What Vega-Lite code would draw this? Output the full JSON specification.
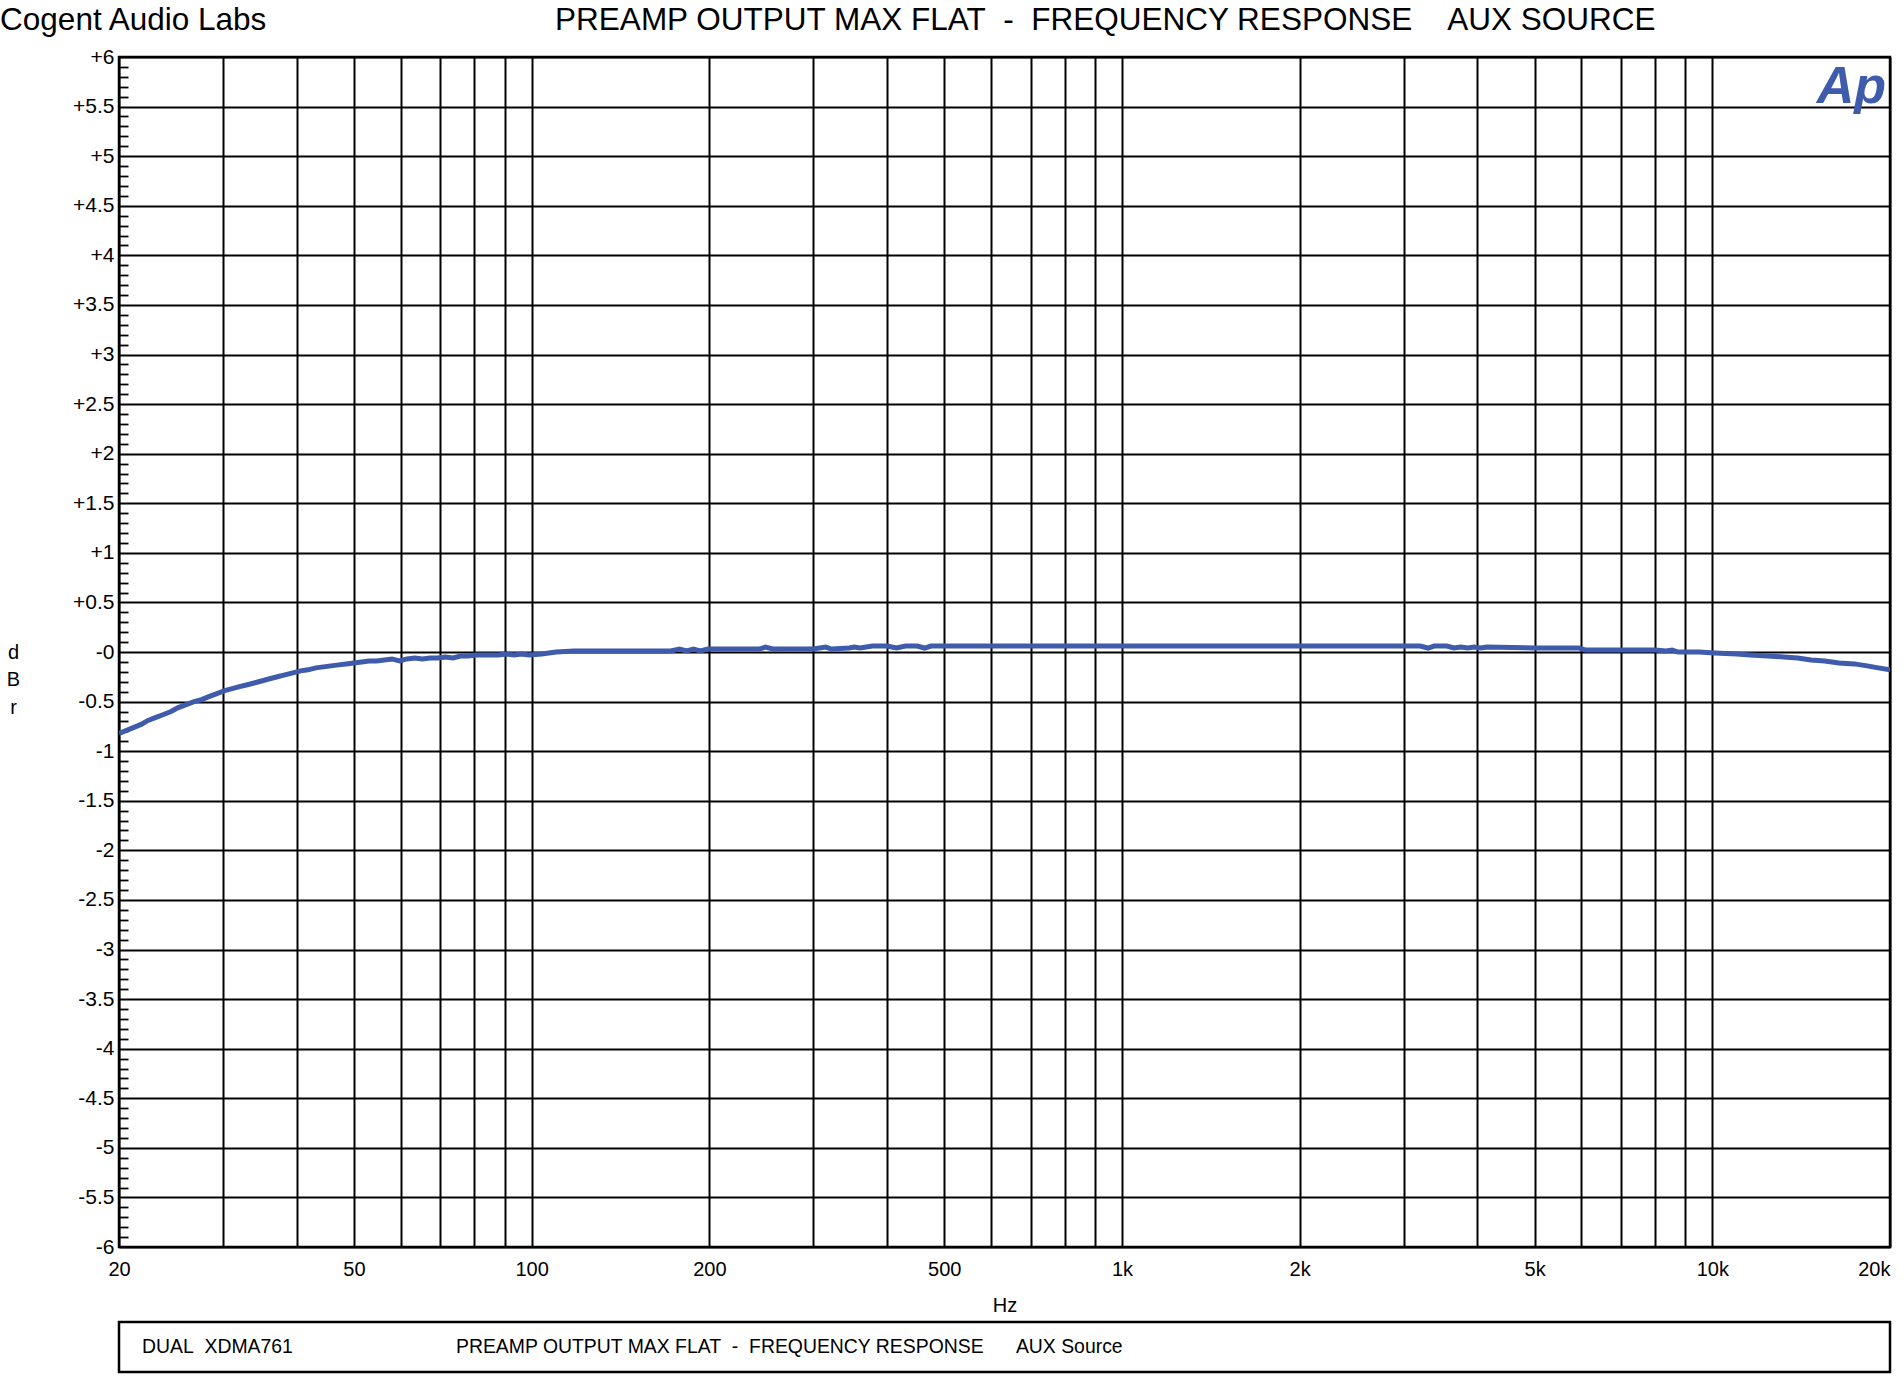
{
  "$schema": "https://vega.github.io/schema/vega-lite/v6.json",
  "background": "white",
  "autosize": {"type": "pad"},
  "padding": {"left": 0, "top": 5, "right": 5, "bottom": 5},
  "title": {
    "text": "Cogent Audio Labs\u00a0\u00a0\u00a0\u00a0\u00a0\u00a0\u00a0\u00a0\u00a0\u00a0\u00a0\u00a0\u00a0\u00a0\u00a0\u00a0\u00a0\u00a0\u00a0\u00a0\u00a0\u00a0\u00a0\u00a0\u00a0\u00a0\u00a0\u00a0\u00a0\u00a0\u00a0\u00a0\u00a0PREAMP OUTPUT MAX FLAT\u00a0\u00a0-\u00a0\u00a0FREQUENCY RESPONSE\u00a0\u00a0\u00a0\u00a0AUX SOURCE",
    "anchor": "start",
    "frame": "bounds",
    "font": "Liberation Sans",
    "fontSize": 31.5,
    "fontWeight": "normal",
    "color": "black",
    "baseline": "alphabetic",
    "offset": -17,
    "dx": -5
  },
  "spacing": 3,
  "vconcat": [
    {
      "width": 1771,
      "height": 1190,
      "layer": [
        {
          "data": {
            "values": [
              {"freq_hz": 20, "level_dbr": -0.82},
              {"freq_hz": 20.6, "level_dbr": -0.79},
              {"freq_hz": 21.2, "level_dbr": -0.76},
              {"freq_hz": 21.8, "level_dbr": -0.73},
              {"freq_hz": 22.4, "level_dbr": -0.69},
              {"freq_hz": 23.1, "level_dbr": -0.66},
              {"freq_hz": 23.8, "level_dbr": -0.63},
              {"freq_hz": 24.5, "level_dbr": -0.6},
              {"freq_hz": 25.2, "level_dbr": -0.56},
              {"freq_hz": 26, "level_dbr": -0.53},
              {"freq_hz": 26.8, "level_dbr": -0.5},
              {"freq_hz": 27.6, "level_dbr": -0.48},
              {"freq_hz": 28.4, "level_dbr": -0.45},
              {"freq_hz": 29.3, "level_dbr": -0.42},
              {"freq_hz": 30.2, "level_dbr": -0.39},
              {"freq_hz": 31.1, "level_dbr": -0.37},
              {"freq_hz": 32, "level_dbr": -0.35},
              {"freq_hz": 33, "level_dbr": -0.33},
              {"freq_hz": 34, "level_dbr": -0.31},
              {"freq_hz": 35, "level_dbr": -0.29},
              {"freq_hz": 36, "level_dbr": -0.27},
              {"freq_hz": 37.1, "level_dbr": -0.25},
              {"freq_hz": 38.2, "level_dbr": -0.23},
              {"freq_hz": 39.4, "level_dbr": -0.21},
              {"freq_hz": 40.6, "level_dbr": -0.19},
              {"freq_hz": 41.8, "level_dbr": -0.18},
              {"freq_hz": 43.1, "level_dbr": -0.16},
              {"freq_hz": 44.4, "level_dbr": -0.15},
              {"freq_hz": 45.7, "level_dbr": -0.14},
              {"freq_hz": 47.1, "level_dbr": -0.13},
              {"freq_hz": 48.5, "level_dbr": -0.12},
              {"freq_hz": 50, "level_dbr": -0.11},
              {"freq_hz": 51.5, "level_dbr": -0.1},
              {"freq_hz": 53, "level_dbr": -0.09},
              {"freq_hz": 54.6, "level_dbr": -0.09},
              {"freq_hz": 56.3, "level_dbr": -0.08},
              {"freq_hz": 58, "level_dbr": -0.07},
              {"freq_hz": 59.7, "level_dbr": -0.09},
              {"freq_hz": 61.5, "level_dbr": -0.07},
              {"freq_hz": 63.4, "level_dbr": -0.06},
              {"freq_hz": 65.3, "level_dbr": -0.07},
              {"freq_hz": 67.3, "level_dbr": -0.06},
              {"freq_hz": 69.3, "level_dbr": -0.06},
              {"freq_hz": 71.4, "level_dbr": -0.05},
              {"freq_hz": 73.6, "level_dbr": -0.06},
              {"freq_hz": 75.8, "level_dbr": -0.04},
              {"freq_hz": 78.1, "level_dbr": -0.04},
              {"freq_hz": 80.4, "level_dbr": -0.03},
              {"freq_hz": 82.8, "level_dbr": -0.03},
              {"freq_hz": 85.3, "level_dbr": -0.03},
              {"freq_hz": 87.9, "level_dbr": -0.03},
              {"freq_hz": 90.6, "level_dbr": -0.02},
              {"freq_hz": 93.3, "level_dbr": -0.03},
              {"freq_hz": 96.1, "level_dbr": -0.02},
              {"freq_hz": 99, "level_dbr": -0.03},
              {"freq_hz": 104, "level_dbr": -0.02},
              {"freq_hz": 110, "level_dbr": 0.0},
              {"freq_hz": 118, "level_dbr": 0.01},
              {"freq_hz": 150, "level_dbr": 0.01},
              {"freq_hz": 172, "level_dbr": 0.01},
              {"freq_hz": 178, "level_dbr": 0.03},
              {"freq_hz": 183, "level_dbr": 0.01},
              {"freq_hz": 188, "level_dbr": 0.03},
              {"freq_hz": 193, "level_dbr": 0.01},
              {"freq_hz": 199, "level_dbr": 0.03},
              {"freq_hz": 220, "level_dbr": 0.03},
              {"freq_hz": 243, "level_dbr": 0.03},
              {"freq_hz": 249, "level_dbr": 0.05},
              {"freq_hz": 256, "level_dbr": 0.03},
              {"freq_hz": 300, "level_dbr": 0.03},
              {"freq_hz": 315, "level_dbr": 0.05},
              {"freq_hz": 322, "level_dbr": 0.03},
              {"freq_hz": 345, "level_dbr": 0.04},
              {"freq_hz": 352, "level_dbr": 0.05},
              {"freq_hz": 360, "level_dbr": 0.04},
              {"freq_hz": 378, "level_dbr": 0.06},
              {"freq_hz": 400, "level_dbr": 0.06},
              {"freq_hz": 415, "level_dbr": 0.04},
              {"freq_hz": 430, "level_dbr": 0.06},
              {"freq_hz": 450, "level_dbr": 0.06},
              {"freq_hz": 463, "level_dbr": 0.04},
              {"freq_hz": 475, "level_dbr": 0.06},
              {"freq_hz": 500, "level_dbr": 0.06},
              {"freq_hz": 800, "level_dbr": 0.06},
              {"freq_hz": 1000, "level_dbr": 0.06},
              {"freq_hz": 1500, "level_dbr": 0.06},
              {"freq_hz": 2000, "level_dbr": 0.06},
              {"freq_hz": 2700, "level_dbr": 0.06},
              {"freq_hz": 3200, "level_dbr": 0.06},
              {"freq_hz": 3300, "level_dbr": 0.04},
              {"freq_hz": 3380, "level_dbr": 0.06},
              {"freq_hz": 3550, "level_dbr": 0.06},
              {"freq_hz": 3650, "level_dbr": 0.04},
              {"freq_hz": 3750, "level_dbr": 0.05},
              {"freq_hz": 3850, "level_dbr": 0.04},
              {"freq_hz": 3950, "level_dbr": 0.05},
              {"freq_hz": 4050, "level_dbr": 0.04},
              {"freq_hz": 4150, "level_dbr": 0.05},
              {"freq_hz": 5000, "level_dbr": 0.04},
              {"freq_hz": 5950, "level_dbr": 0.04},
              {"freq_hz": 6100, "level_dbr": 0.02},
              {"freq_hz": 7000, "level_dbr": 0.02},
              {"freq_hz": 8000, "level_dbr": 0.02},
              {"freq_hz": 8350, "level_dbr": 0.01},
              {"freq_hz": 8550, "level_dbr": 0.02},
              {"freq_hz": 8750, "level_dbr": 0.0},
              {"freq_hz": 9500, "level_dbr": 0.0},
              {"freq_hz": 10100, "level_dbr": -0.01},
              {"freq_hz": 11000, "level_dbr": -0.02},
              {"freq_hz": 11600, "level_dbr": -0.03},
              {"freq_hz": 12400, "level_dbr": -0.04},
              {"freq_hz": 13200, "level_dbr": -0.05},
              {"freq_hz": 13950, "level_dbr": -0.06},
              {"freq_hz": 14700, "level_dbr": -0.08},
              {"freq_hz": 15500, "level_dbr": -0.09},
              {"freq_hz": 16400, "level_dbr": -0.11},
              {"freq_hz": 17400, "level_dbr": -0.12},
              {"freq_hz": 18300, "level_dbr": -0.14},
              {"freq_hz": 19100, "level_dbr": -0.16},
              {"freq_hz": 20000, "level_dbr": -0.18}
            ]
          },
          "mark": {"type": "line", "color": "#3F5BAB", "strokeWidth": 5, "clip": true},
          "encoding": {
            "x": {
              "field": "freq_hz",
              "type": "quantitative",
              "scale": {"type": "log", "domain": [20, 20000], "nice": false},
              "axis": {
                "values": [20, 30, 40, 50, 60, 70, 80, 90, 100, 200, 300, 400, 500, 600, 700, 800, 900, 1000, 2000, 3000, 4000, 5000, 6000, 7000, 8000, 9000, 10000, 20000],
                "tickCount": 200,
                "grid": true,
                "gridColor": "black",
                "gridWidth": 2,
                "gridOpacity": 1,
                "ticks": false,
                "tickSize": 0,
                "domain": false,
                "labelExpr": "indexof([20,50,100,200,500,1000,2000,5000,10000,20000], datum.value) >= 0 ? (datum.value >= 1000 ? format(datum.value/1000, '') + 'k' : format(datum.value, '')) : ''",
                "labelAlign": {"condition": {"test": "datum.value == 20000", "value": "right"}, "value": "center"},
                "labelBaseline": "middle",
                "labelPadding": 22,
                "labelFlush": false,
                "labelOverlap": false,
                "labelFont": "Liberation Sans",
                "labelFontSize": 20,
                "labelColor": "black",
                "title": "Hz",
                "titleY": 58,
                "titleBaseline": "middle",
                "titleFont": "Liberation Sans",
                "titleFontSize": 20,
                "titleFontWeight": "normal",
                "titleColor": "black"
              }
            },
            "y": {
              "field": "level_dbr",
              "type": "quantitative",
              "scale": {"domain": [-6, 6], "nice": false, "zero": false},
              "axis": {
                "values": [-6, -5.9, -5.8, -5.7, -5.6, -5.5, -5.4, -5.3, -5.2, -5.1, -5, -4.9, -4.8, -4.7, -4.6, -4.5, -4.4, -4.3, -4.2, -4.1, -4, -3.9, -3.8, -3.7, -3.6, -3.5, -3.4, -3.3, -3.2, -3.1, -3, -2.9, -2.8, -2.7, -2.6, -2.5, -2.4, -2.3, -2.2, -2.1, -2, -1.9, -1.8, -1.7, -1.6, -1.5, -1.4, -1.3, -1.2, -1.1, -1, -0.9, -0.8, -0.7, -0.6, -0.5, -0.4, -0.3, -0.2, -0.1, 0, 0.1, 0.2, 0.3, 0.4, 0.5, 0.6, 0.7, 0.8, 0.9, 1, 1.1, 1.2, 1.3, 1.4, 1.5, 1.6, 1.7, 1.8, 1.9, 2, 2.1, 2.2, 2.3, 2.4, 2.5, 2.6, 2.7, 2.8, 2.9, 3, 3.1, 3.2, 3.3, 3.4, 3.5, 3.6, 3.7, 3.8, 3.9, 4, 4.1, 4.2, 4.3, 4.4, 4.5, 4.6, 4.7, 4.8, 4.9, 5, 5.1, 5.2, 5.3, 5.4, 5.5, 5.6, 5.7, 5.8, 5.9, 6],
                "tickCount": 500,
                "grid": true,
                "gridColor": "black",
                "gridWidth": 2,
                "gridOpacity": {"condition": {"test": "abs(datum.value * 2 - round(datum.value * 2)) < 0.01", "value": 1}, "value": 0},
                "ticks": true,
                "tickColor": "black",
                "tickWidth": 1.8,
                "tickSize": {"condition": {"test": "abs(datum.value * 2 - round(datum.value * 2)) < 0.01", "value": 0}, "value": -9},
                "domain": false,
                "labelExpr": "abs(datum.value * 2 - round(datum.value * 2)) < 0.01 ? (datum.value > 0 ? '+' + format(datum.value, '') : '-' + format(abs(datum.value), '')) : ''",
                "labelBaseline": "middle",
                "labelPadding": 5,
                "labelFlush": false,
                "labelOverlap": false,
                "labelFont": "Liberation Sans",
                "labelFontSize": 21,
                "labelColor": "black",
                "title": ["d", "B", "r"],
                "titleAngle": 0,
                "titleX": -106,
                "titleY": 595,
                "titleAlign": "center",
                "titleBaseline": "middle",
                "titleLineHeight": 27.5,
                "titleFont": "Liberation Sans",
                "titleFontSize": 20,
                "titleFontWeight": "normal",
                "titleColor": "black"
              }
            }
          }
        },
        {
          "data": {"values": [{"logo": "Ap"}]},
          "mark": {
            "type": "text",
            "font": "Liberation Sans Narrow, Liberation Sans",
            "fontSize": 52,
            "fontWeight": "bold",
            "fontStyle": "italic",
            "color": "#3F5BAB",
            "align": "right",
            "baseline": "alphabetic",
            "dx": -4,
            "dy": 46
          },
          "encoding": {
            "x": {"datum": 20000, "type": "quantitative"},
            "y": {"datum": 6, "type": "quantitative"},
            "text": {"field": "logo"}
          }
        }
      ]
    },
    {
      "width": 1771,
      "height": 50,
      "data": {
        "values": [
          {"label": "DUAL\u00a0\u00a0XDMA761"},
          {"label": "PREAMP OUTPUT MAX FLAT\u00a0\u00a0-\u00a0\u00a0FREQUENCY RESPONSE\u00a0\u00a0\u00a0\u00a0\u00a0\u00a0AUX Source"}
        ]
      },
      "mark": {"type": "text", "align": "left", "baseline": "middle", "font": "Liberation Sans", "fontSize": 19.4, "color": "black"},
      "encoding": {
        "x": {
          "field": "label",
          "type": "nominal",
          "scale": {
            "type": "point",
            "domain": ["DUAL\u00a0\u00a0XDMA761", "PREAMP OUTPUT MAX FLAT\u00a0\u00a0-\u00a0\u00a0FREQUENCY RESPONSE\u00a0\u00a0\u00a0\u00a0\u00a0\u00a0AUX Source"],
            "range": [23, 337],
            "padding": 0
          },
          "axis": null
        },
        "text": {"field": "label"}
      }
    }
  ],
  "config": {
    "font": "Liberation Sans",
    "view": {"stroke": "black", "strokeWidth": 2.5}
  }
}
